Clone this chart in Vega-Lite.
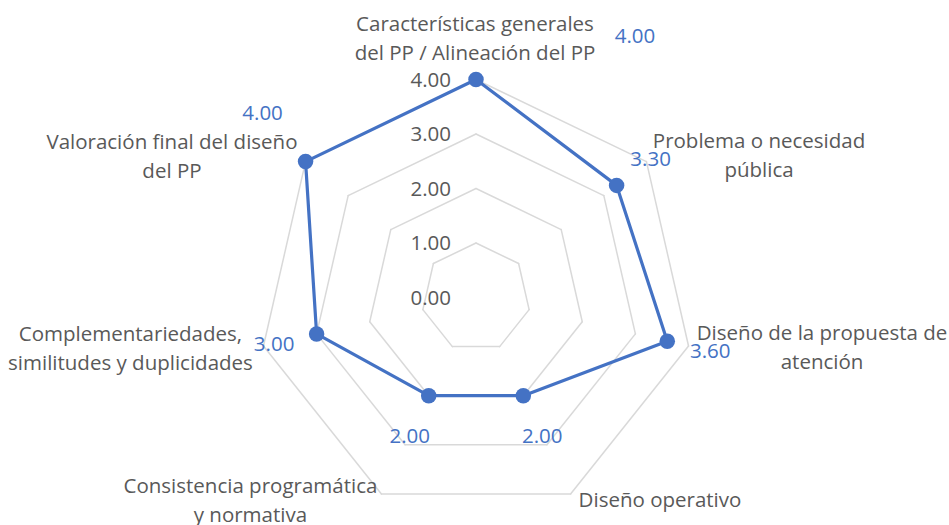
{
  "$schema": "https://vega.github.io/schema/vega-lite/v6.json",
  "width": 949,
  "height": 525,
  "autosize": {"type": "none"},
  "padding": 0,
  "background": "white",
  "config": {
    "view": {"stroke": null},
    "text": {"font": "Open Sans", "fontSize": 20.5, "lineHeight": 29, "align": "center", "baseline": "middle"}
  },
  "datasets": {
    "datos": [
      {"k": 0, "categoria": "Características generales\ndel PP / Alineación del PP", "valor": 4.0},
      {"k": 1, "categoria": "Problema o necesidad\npública", "valor": 3.3},
      {"k": 2, "categoria": "Diseño de la propuesta de\natención", "valor": 3.6},
      {"k": 3, "categoria": "Diseño operativo", "valor": 2.0},
      {"k": 4, "categoria": "Consistencia programática\ny normativa", "valor": 2.0},
      {"k": 5, "categoria": "Complementariedades,\nsimilitudes y duplicidades", "valor": 3.0},
      {"k": 6, "categoria": "Valoración final del diseño\ndel PP", "valor": 4.0}
    ],
    "rejilla": [
      {"nivel": 1, "k": 0}, {"nivel": 1, "k": 1}, {"nivel": 1, "k": 2}, {"nivel": 1, "k": 3}, {"nivel": 1, "k": 4}, {"nivel": 1, "k": 5}, {"nivel": 1, "k": 6},
      {"nivel": 2, "k": 0}, {"nivel": 2, "k": 1}, {"nivel": 2, "k": 2}, {"nivel": 2, "k": 3}, {"nivel": 2, "k": 4}, {"nivel": 2, "k": 5}, {"nivel": 2, "k": 6},
      {"nivel": 3, "k": 0}, {"nivel": 3, "k": 1}, {"nivel": 3, "k": 2}, {"nivel": 3, "k": 3}, {"nivel": 3, "k": 4}, {"nivel": 3, "k": 5}, {"nivel": 3, "k": 6},
      {"nivel": 4, "k": 0}, {"nivel": 4, "k": 1}, {"nivel": 4, "k": 2}, {"nivel": 4, "k": 3}, {"nivel": 4, "k": 4}, {"nivel": 4, "k": 5}, {"nivel": 4, "k": 6}
    ],
    "escala": [{"nivel": 0}, {"nivel": 1}, {"nivel": 2}, {"nivel": 3}, {"nivel": 4}]
  },
  "encoding": {
    "x": {"field": "x", "type": "quantitative", "scale": {"domain": [-8.734, 8.679], "nice": false, "zero": false}, "axis": null},
    "y": {"field": "y", "type": "quantitative", "scale": {"domain": [-4.174, 5.459], "nice": false, "zero": false}, "axis": null}
  },
  "layer": [
    {
      "data": {"name": "rejilla"},
      "transform": [
        {"calculate": "datum.nivel*sin(2*PI*datum.k/7)", "as": "x"},
        {"calculate": "datum.nivel*cos(2*PI*datum.k/7)", "as": "y"},
        {"calculate": "datum.nivel*sin(2*PI*(datum.k+1)/7)", "as": "x2"},
        {"calculate": "datum.nivel*cos(2*PI*(datum.k+1)/7)", "as": "y2"}
      ],
      "mark": {"type": "rule", "color": "#D9D9D9", "strokeWidth": 1.5, "strokeCap": "round"},
      "encoding": {"x2": {"field": "x2"}, "y2": {"field": "y2"}}
    },
    {
      "data": {"name": "escala"},
      "transform": [
        {"calculate": "0", "as": "x"},
        {"calculate": "datum.nivel", "as": "y"}
      ],
      "mark": {"type": "text", "align": "right", "dx": -25, "dy": 1, "color": "#595959"},
      "encoding": {"text": {"field": "nivel", "type": "quantitative", "format": ".2f"}}
    },
    {
      "data": {"name": "datos"},
      "transform": [
        {"window": [{"op": "lead", "field": "valor", "as": "vsig"}, {"op": "first_value", "field": "valor", "as": "vprim"}], "sort": [{"field": "k", "order": "ascending"}], "frame": [null, null]},
        {"calculate": "datum.vsig != null ? datum.vsig : datum.vprim", "as": "vn"},
        {"calculate": "datum.valor*sin(2*PI*datum.k/7)", "as": "x"},
        {"calculate": "datum.valor*cos(2*PI*datum.k/7)", "as": "y"},
        {"calculate": "datum.vn*sin(2*PI*(datum.k+1)/7)", "as": "x2"},
        {"calculate": "datum.vn*cos(2*PI*(datum.k+1)/7)", "as": "y2"}
      ],
      "mark": {"type": "rule", "color": "#4472C4", "strokeWidth": 3.2, "strokeCap": "round"},
      "encoding": {"x2": {"field": "x2"}, "y2": {"field": "y2"}}
    },
    {
      "data": {"name": "datos"},
      "transform": [
        {"calculate": "datum.valor*sin(2*PI*datum.k/7)", "as": "x"},
        {"calculate": "datum.valor*cos(2*PI*datum.k/7)", "as": "y"}
      ],
      "layer": [
        {"mark": {"type": "circle", "size": 240, "color": "#4472C4", "opacity": 1}},
        {"transform": [{"filter": "datum.k == 0"}], "mark": {"type": "text", "color": "#4472C4", "dx": 159, "dy": -43}, "encoding": {"text": {"field": "valor", "type": "quantitative", "format": ".2f"}}},
        {"transform": [{"filter": "datum.k == 1"}], "mark": {"type": "text", "color": "#4472C4", "dx": 34, "dy": -25}, "encoding": {"text": {"field": "valor", "type": "quantitative", "format": ".2f"}}},
        {"transform": [{"filter": "datum.k == 2"}], "mark": {"type": "text", "color": "#4472C4", "dx": 43, "dy": 11}, "encoding": {"text": {"field": "valor", "type": "quantitative", "format": ".2f"}}},
        {"transform": [{"filter": "datum.k == 3"}], "mark": {"type": "text", "color": "#4472C4", "dx": 19, "dy": 41}, "encoding": {"text": {"field": "valor", "type": "quantitative", "format": ".2f"}}},
        {"transform": [{"filter": "datum.k == 4"}], "mark": {"type": "text", "color": "#4472C4", "dx": -19, "dy": 41}, "encoding": {"text": {"field": "valor", "type": "quantitative", "format": ".2f"}}},
        {"transform": [{"filter": "datum.k == 5"}], "mark": {"type": "text", "color": "#4472C4", "dx": -42.5, "dy": 11.5}, "encoding": {"text": {"field": "valor", "type": "quantitative", "format": ".2f"}}},
        {"transform": [{"filter": "datum.k == 6"}], "mark": {"type": "text", "color": "#4472C4", "dx": -43, "dy": -48}, "encoding": {"text": {"field": "valor", "type": "quantitative", "format": ".2f"}}}
      ]
    },
    {
      "data": {"name": "datos"},
      "transform": [
        {"calculate": "4*sin(2*PI*datum.k/7)", "as": "x"},
        {"calculate": "4*cos(2*PI*datum.k/7)", "as": "y"}
      ],
      "layer": [
        {"transform": [{"filter": "datum.k == 0"}], "mark": {"type": "text", "color": "#595959", "lineBreak": "\n", "dx": -1, "dy": -54.5}, "encoding": {"text": {"field": "categoria", "type": "nominal"}}},
        {"transform": [{"filter": "datum.k == 1"}], "mark": {"type": "text", "color": "#595959", "lineBreak": "\n", "dx": 112.6, "dy": -19.5}, "encoding": {"text": {"field": "categoria", "type": "nominal"}}},
        {"transform": [{"filter": "datum.k == 2"}], "mark": {"type": "text", "color": "#595959", "lineBreak": "\n", "dx": 133.5, "dy": -12}, "encoding": {"text": {"field": "categoria", "type": "nominal"}}},
        {"transform": [{"filter": "datum.k == 3"}], "mark": {"type": "text", "color": "#595959", "lineBreak": "\n", "dx": 89.4, "dy": 7.5}, "encoding": {"text": {"field": "categoria", "type": "nominal"}}},
        {"transform": [{"filter": "datum.k == 4"}], "mark": {"type": "text", "color": "#595959", "lineBreak": "\n", "dx": -131, "dy": -6.5}, "encoding": {"text": {"field": "categoria", "type": "nominal"}}},
        {"transform": [{"filter": "datum.k == 5"}], "mark": {"type": "text", "color": "#595959", "lineBreak": "\n", "dx": -133, "dy": -11.5}, "encoding": {"text": {"field": "categoria", "type": "nominal"}}},
        {"transform": [{"filter": "datum.k == 6"}], "mark": {"type": "text", "color": "#595959", "lineBreak": "\n", "dx": -133.6, "dy": -18.5}, "encoding": {"text": {"field": "categoria", "type": "nominal"}}}
      ]
    }
  ]
}
